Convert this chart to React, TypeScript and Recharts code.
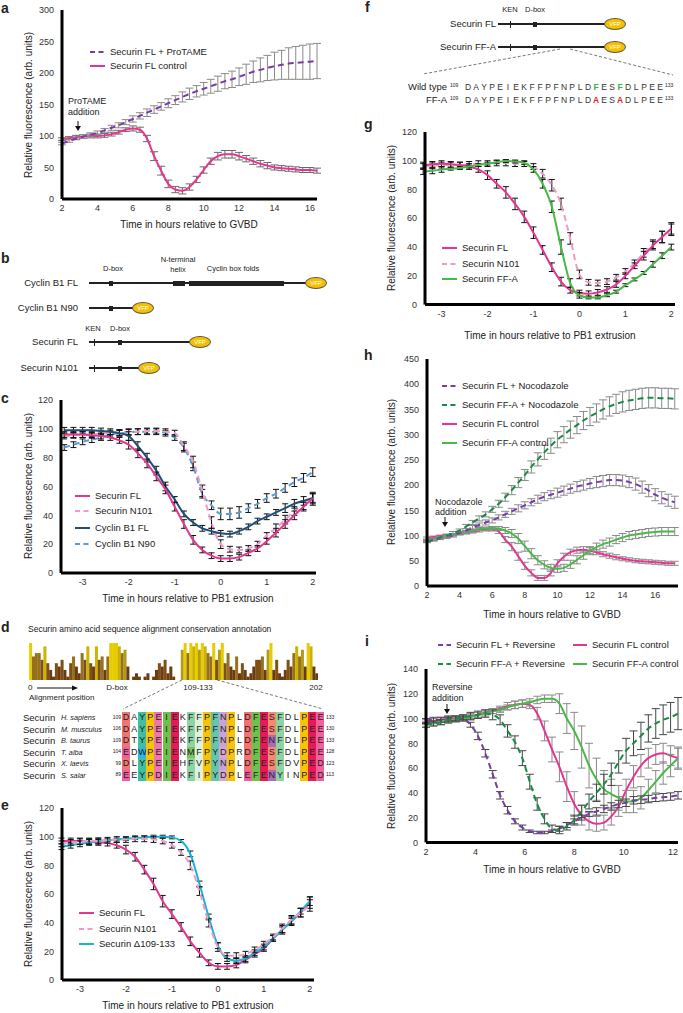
import React from "react";
import { LineChart, Line, XAxis, YAxis, ErrorBar, BarChart, Bar, Cell } from "recharts";

// ---- panel a (hours after GVBD) ----
const aTime = [2, 2.4, 2.8, 3.2, 3.6, 4, 4.4, 4.8, 5.2, 5.6, 6, 6.4, 6.8, 7.2, 7.6, 8, 8.4, 8.8, 9.2, 9.6, 10, 10.4, 10.8, 11.2, 11.6, 12, 12.4, 12.8, 13.2, 13.6, 14, 14.4, 14.8, 15.2, 15.6, 16, 16.4];
const aProtame = [88, 92, 96, 99, 102, 105, 109, 113, 117, 122, 127, 132, 137, 142, 147, 152, 157, 162, 167, 171, 175, 179, 183, 187, 190, 194, 198, 202, 205, 208, 211, 213, 215, 216, 217, 218, 219];
const aProtameErr = [2, 2, 2, 3, 3, 3, 3, 4, 4, 4, 5, 5, 6, 6, 6, 7, 7, 8, 9, 9, 10, 11, 12, 12, 13, 14, 16, 17, 19, 20, 22, 23, 25, 26, 27, 28, 28];
const aControl = [95, 97, 98, 99, 100, 100, 101, 103, 106, 110, 112, 110, 96, 68, 45, 24, 15, 13, 19, 31, 46, 60, 68, 71, 71, 68, 64, 60, 56, 53, 50, 49, 48, 47, 46, 46, 45];
const aControlErr = [2, 2, 3, 3, 3, 3, 3, 3, 3, 3, 4, 4, 5, 7, 7, 6, 5, 5, 5, 5, 5, 5, 6, 6, 6, 6, 5, 5, 5, 5, 4, 4, 4, 4, 4, 4, 4];

// ---- panels c, e, g (hours relative to PB1 extrusion) ----
const pbTime = [-3.4, -3.2, -3, -2.8, -2.6, -2.4, -2.2, -2, -1.8, -1.6, -1.4, -1.2, -1, -0.8, -0.6, -0.4, -0.2, 0, 0.2, 0.4, 0.6, 0.8, 1, 1.2, 1.4, 1.6, 1.8, 2];

const cFL = [96, 96, 96, 95.5, 95, 94, 92, 89, 83, 76, 67, 58, 46, 34, 23, 16, 12, 10, 10, 11, 14, 17, 22, 28, 34, 40, 46, 52];
const cFLErr = [2, 2, 2, 2, 2, 2, 2, 3, 3, 3, 3, 3, 3, 3, 3, 2, 2, 2, 2, 2, 2, 2, 2, 3, 3, 3, 3, 4];
const cN101 = [95, 95.5, 96, 96, 97, 97, 97.5, 98, 98, 98.5, 98.5, 98, 97, 88, 77, 57, 35, 20, 16.5, 16, 17, 20, 26, 31, 37, 43, 47, 51];
const cN101Err = [2, 2, 2, 2, 2, 2, 2, 2, 2, 2, 2, 2, 2, 3, 4, 4, 4, 3, 2, 2, 2, 2, 2, 3, 3, 3, 3, 4];
const cB1FL = [99, 99, 99, 99, 98.5, 98, 97, 95, 88, 80, 71, 60, 51, 41, 35, 31, 29, 27.5, 27, 29, 32, 36, 39, 42, 45, 48, 50, 52];
const cB1FLErr = [2, 2, 2, 2, 2, 2, 2, 3, 3, 3, 3, 3, 2, 2, 2, 2, 2, 2, 2, 2, 2, 2, 2, 2, 3, 3, 3, 3];
const cB1N90 = [87, 89, 91, 92.5, 94, 96, 97, 97.5, 98, 98, 98, 97, 94, 87, 74, 55, 47, 41, 41, 42, 45, 48, 52, 55, 59, 63, 66, 70];
const cB1N90Err = [2, 2, 2, 2, 2, 2, 2, 2, 2, 2, 2, 2, 2, 3, 3, 3, 3, 4, 4, 4, 3, 3, 3, 3, 3, 3, 3, 3];

const eFL = [97, 97, 97, 96.5, 96, 95.5, 94, 91, 86, 77, 67, 55, 46, 37, 27, 19, 12, 9.5, 9.5, 10.5, 14, 18, 22, 29, 35, 41, 47, 54];
const eFLErr = [2, 2, 2, 2, 2, 2, 2, 3, 3, 3, 4, 4, 3, 3, 3, 3, 2, 2, 2, 2, 2, 2, 2, 2, 3, 3, 3, 4];
const eN101 = [95, 96, 96.5, 97, 97, 97.5, 98, 98, 98.5, 98.5, 98, 97, 94, 89, 80, 62, 40, 23, 17, 17, 18, 21, 25, 30, 36, 42, 47, 52];
const eN101Err = [2, 2, 2, 2, 2, 2, 2, 2, 2, 2, 2, 2, 2, 2, 3, 3, 3, 3, 2, 2, 2, 2, 2, 2, 3, 3, 3, 4];
const eDelta = [93, 94, 95, 96, 97, 97.5, 98, 98.5, 99, 99.5, 100, 100, 99.5, 97, 88, 67, 44, 24, 15, 13.5, 15, 19, 23, 29, 35, 41, 48, 55];
const eDeltaErr = [2, 2, 2, 2, 2, 1, 1, 1, 1, 1, 1, 1, 1, 1, 2, 2, 2, 2, 2, 2, 2, 2, 2, 2, 2, 2, 2, 3];

const gFL = [97, 97.5, 98, 97.5, 97, 96, 94, 90, 84, 78, 70, 61, 50, 38, 26, 16, 10, 8, 7.5, 8.5, 10.5, 14, 20, 27, 34, 41, 47, 53];
const gFLErr = [2, 2, 2, 2, 2, 2, 2, 3, 3, 4, 4, 4, 4, 3, 3, 3, 2, 2, 2, 2, 2, 2, 2, 2, 3, 3, 4, 4];
const gN101 = [96, 96.5, 97, 97, 97, 97.5, 98, 98, 98.5, 98.5, 98, 98, 96, 91, 83, 70, 46, 21, 15.5, 15, 16, 19, 23, 29, 36, 42, 47, 52];
const gN101Err = [2, 2, 2, 2, 2, 2, 2, 2, 2, 2, 2, 2, 2, 3, 4, 4, 4, 3, 2, 2, 2, 2, 2, 2, 3, 3, 4, 4];
const gFFA = [92.5, 93, 94, 94.5, 95, 96, 97, 98, 99, 99.8, 99.5, 98.5, 94, 84, 68, 40, 15, 6.5, 5, 5, 6.5, 9, 13.5, 17.5, 22, 28, 34, 40];
const gFFAErr = [2, 2, 2, 1, 1, 1, 1, 1, 1, 1, 1, 1, 2, 3, 4, 5, 3, 2, 1, 1, 1, 1, 1, 1, 1, 2, 2, 2];

// ---- panel h (nocodazole, hours after GVBD) ----
const hTime = [2, 2.4, 2.8, 3.2, 3.6, 4, 4.4, 4.8, 5.2, 5.6, 6, 6.4, 6.8, 7.2, 7.6, 8, 8.4, 8.8, 9.2, 9.6, 10, 10.4, 10.8, 11.2, 11.6, 12, 12.4, 12.8, 13.2, 13.6, 14, 14.4, 14.8, 15.2, 15.6, 16, 16.4, 16.8, 17.2];
const hFLNoco = [88, 91, 94, 97, 100, 105, 110, 116, 121, 126, 130, 136, 142, 148, 154, 160, 166, 172, 177, 181, 185, 189, 193, 197, 200, 203, 206, 208, 210, 210, 209, 206, 202, 196, 189, 181, 175, 170, 166];
const hFLNocoErr = [2, 2, 2, 3, 3, 3, 4, 4, 4, 5, 5, 5, 6, 6, 7, 7, 7, 8, 8, 8, 9, 9, 9, 10, 10, 10, 11, 11, 11, 11, 11, 11, 12, 12, 12, 12, 12, 12, 12];
const hFFANoco = [88, 92, 96, 100, 105, 110, 118, 126, 134, 142, 152, 163, 176, 190, 205, 220, 236, 251, 265, 278, 290, 300, 310, 319, 328, 336, 343, 350, 356, 361, 365, 368, 370, 372, 373, 373, 372, 372, 371];
const hFFANocoErr = [2, 2, 2, 3, 3, 3, 4, 4, 5, 5, 6, 7, 8, 9, 10, 11, 12, 13, 14, 15, 16, 16, 17, 17, 18, 18, 18, 19, 19, 19, 20, 20, 20, 20, 20, 20, 20, 20, 20];
const hFLCtrl = [95, 97, 99, 100, 102, 104, 106, 108, 110, 112, 112, 108, 92, 78, 59, 40, 26, 16, 16, 26, 45, 58, 67, 71, 72, 70, 67, 63, 60, 57, 54, 52, 50, 49, 48, 47, 46, 45, 45];
const hFLCtrlErr = [2, 2, 2, 2, 2, 2, 3, 3, 3, 3, 3, 4, 6, 8, 8, 7, 6, 5, 5, 6, 7, 7, 6, 6, 6, 6, 5, 5, 5, 5, 4, 4, 4, 4, 4, 4, 4, 4, 4];
const hFFACtrl = [90, 93, 96, 99, 101, 104, 107, 110, 113, 114, 115, 114, 110, 104, 94, 79, 64, 51, 42, 36, 34, 36, 43, 52, 61, 70, 77, 83, 87, 92, 96, 100, 102, 104, 106, 107, 108, 108, 108];
const hFFACtrlErr = [2, 2, 2, 2, 2, 3, 3, 3, 3, 3, 3, 4, 6, 8, 10, 10, 10, 9, 8, 7, 7, 7, 8, 8, 8, 8, 8, 8, 8, 8, 8, 8, 8, 8, 8, 8, 8, 8, 8];

// ---- panel i (reversine, hours after GVBD) ----
const iTime = [2, 2.3, 2.6, 2.9, 3.2, 3.5, 3.8, 4.1, 4.4, 4.7, 5, 5.3, 5.6, 5.9, 6.2, 6.5, 6.8, 7.1, 7.4, 7.7, 8, 8.3, 8.6, 8.9, 9.2, 9.5, 9.8, 10.1, 10.4, 10.7, 11, 11.3, 11.6, 11.9, 12.2];
const iFLRev = [98, 99, 99, 100, 100, 100, 95, 86, 72, 55, 38, 26, 17, 12, 9, 8, 8, 9, 11, 14, 17, 20, 23, 25, 27, 29, 31, 32, 34, 34.5, 35, 36, 36.5, 37, 38];
const iFLRevErr = [2, 2, 2, 2, 2, 2, 2, 3, 3, 3, 3, 3, 2, 2, 1, 1, 1, 1, 2, 2, 2, 2, 2, 3, 3, 3, 3, 3, 3, 3, 3, 3, 3, 3, 3];
const iFFARev = [95, 96, 97, 99, 100, 101, 102, 103, 104, 103, 99, 90, 81, 68, 49, 31, 19, 11, 10, 13, 18, 25, 33, 40, 47, 55, 65, 74, 80, 86, 92, 96, 99, 101, 104];
const iFFARevErr = [2, 2, 2, 2, 2, 2, 3, 3, 3, 4, 4, 5, 5, 6, 6, 5, 4, 3, 3, 3, 4, 5, 6, 7, 8, 9, 9, 10, 10, 11, 11, 12, 12, 12, 13];
const iFLCtrl = [97, 98, 99, 100, 100, 101, 102, 103, 105, 106, 108, 110, 111, 112, 111, 104, 90, 75, 61, 45, 31, 22, 17, 15, 16, 21, 29, 42, 53, 62, 68, 71, 72, 70, 68];
const iFLCtrlErr = [2, 2, 2, 2, 2, 2, 2, 2, 2, 2, 2, 3, 3, 3, 3, 5, 8, 10, 12, 12, 10, 8, 7, 6, 6, 7, 8, 9, 9, 9, 8, 8, 8, 8, 8];
const iFFACtrl = [95, 96, 97, 98, 99, 100, 101, 103, 104, 106, 107, 109, 111, 112, 113, 115, 116, 116, 112, 100, 90, 77, 62, 51, 43, 39, 36, 33, 33, 36, 42, 49, 56, 62, 68];
const iFFACtrlErr = [2, 2, 2, 2, 2, 2, 2, 2, 2, 2, 2, 2, 3, 3, 3, 3, 3, 3, 8, 12, 15, 17, 18, 17, 15, 12, 10, 9, 9, 9, 9, 9, 9, 9, 9];

// ---- panel d ----
const conservation = [
  11, 7, 8, 8, 6, 10, 5, 3,
  1, 5, 4, 6, 3, 1, 5, 7, 4,
  2, 8, 6, 10, 5, 4, 10, 6, 7, 3,
  7, 11, 11, 11, 10, 8, 9, 4,
  0, 1, 2, 1, 0, 1, 2, 0, 1, 3, 5, 4, 6, 2, 4, 1, 0, 0,
  9, 11, 8, 11, 10, 11, 9, 11, 10, 8, 7, 11, 6, 9, 11, 5, 8, 4, 3, 7, 2, 5, 3, 1,
  2, 4, 6, 6, 7, 3, 9, 11, 3, 6, 2, 1,
  3, 6, 4, 8, 10, 7, 9, 4, 11, 10, 4, 2,
];
const alignSpecies = ["H. sapiens", "M. musculus", "B. taurus", "T. alba", "X. laevis", "S. salar"];
const alignStart = [109, 106, 109, 104, 99, 89];
const alignEnd = [133, 130, 133, 128, 123, 113];
const alignSeqs = [
  "DAYPEIEKFFPFNPLDFESFDLPEE",
  "DAYPEIEKFFPFNPLDFESFDLPEE",
  "DTYPEIEKFFPFNPLDFENFDLPEE",
  "EDWPEIENMFPYDPRDFESFDLPEE",
  "DLYPEIEHFVPYNPLDFESFDVPED",
  "EEYPDIEKFIPYDPLEFENYINPED",
];
const columnColors = [
  "#f07470", "", "#3fbf9f", "#f8c400", "#f077ac", "#6cc24a", "#e8195a", "", "#8fd3a5", "#dff0df",
  "#f8c400", "#63c6ad", "#c8a2d8", "#f8c400", "", "#f07470", "#6cc24a", "#e8195a", "#f48a6e", "#8fd3a5",
  "", "", "#f8c400", "#e8195a", "#f0609c",
];
const cellOverrides: Record<string, string> = {
  "0E": "#f0609c", "2W": "#29b6e8", "8M": "#7dc35a", "12D": "#d9a6cf", "15E": "#f0609c", "18N": "#a56fb8",
};
const wtSeq = "DAYPEIEKFFPFNPLDFESFDLPEE";
const ffaSeq = "DAYPEIEKFFPFNPLDAESADLPEE";
const ffaSites = [16, 19];

const FONT = '"Liberation Sans", Arial, Helvetica, sans-serif';
const PINK = "#e2368f";
const LPINK = "#f29ac6";
const NAVY = "#1d4f7a";
const LBLUE = "#5b9bd5";
const CYAN = "#18b4d8";
const GREEN = "#49b848";
const DGREEN = "#178a44";
const PURPLE = "#7a3aa8";

type Series = { key: string; values: number[]; errors: number[]; color: string; dashed?: boolean; errColor?: string };

function TimeChart(props: {
  x0: number; x1: number; yTop: number; yBottom: number; times: number[]; series: Series[];
  xDomain: [number, number]; xTicks: number[]; yDomain: [number, number]; yTicks: number[]; cap?: number;
}) {
  const { x0, x1, yTop, yBottom, times, series } = props;
  const YW = 40, MT = 6, MR = 6, XH = 22;
  const data = times.map((t, i) => {
    const row: Record<string, number> = { t };
    series.forEach((s) => {
      row[s.key] = s.values[i];
      row[s.key + "Err"] = s.errors[i];
    });
    return row;
  });
  return (
    <div style={{ position: "absolute", left: x0 - YW, top: yTop - MT }}>
      <LineChart width={YW + x1 - x0 + MR} height={MT + yBottom - yTop + XH} data={data} margin={{ top: MT, right: MR, bottom: 0, left: 0 }}>
        <XAxis type="number" dataKey="t" domain={props.xDomain} ticks={props.xTicks} allowDataOverflow height={XH}
          tickLine={false} tickSize={4} axisLine={{ stroke: "#000", strokeWidth: 3 }} tick={{ fontSize: 9, fill: "#333" }} interval={0} />
        <YAxis type="number" domain={props.yDomain} ticks={props.yTicks} allowDataOverflow width={YW}
          tickLine={false} axisLine={{ stroke: "#000", strokeWidth: 3 }} tick={{ fontSize: 9, fill: "#333" }} interval={0} />
        {series.map((s) => (
          <Line key={s.key} type="monotone" dataKey={s.key} stroke={s.color} strokeWidth={2}
            strokeDasharray={s.dashed ? "6 4" : undefined} dot={false} activeDot={false} isAnimationActive={false}>
            <ErrorBar dataKey={s.key + "Err"} width={props.cap ?? 4} stroke={s.errColor ?? "#111"} strokeWidth={1} direction="y" isAnimationActive={false} />
          </Line>
        ))}
      </LineChart>
    </div>
  );
}

function T(props: { x: number; y: number; children: React.ReactNode; size?: number; anchor?: "start" | "middle" | "end"; bold?: boolean; italic?: boolean; color?: string; rotate?: boolean }) {
  const { x, y, size = 9.5, anchor = "start", bold, italic, color = "#222", rotate } = props;
  const tx = rotate || anchor === "middle" ? "-50%" : anchor === "end" ? "-100%" : "0";
  return (
    <div style={{
      position: "absolute", left: x, top: y, fontSize: size, lineHeight: 1, whiteSpace: "nowrap",
      fontWeight: bold ? 700 : 400, fontStyle: italic ? "italic" : "normal", color,
      transform: `translate(${tx}, -50%)${rotate ? " rotate(-90deg)" : ""}`,
    }}>{props.children}</div>
  );
}

function Key(props: { x: number; y: number; color: string; dashed?: boolean; label: string; len?: number }) {
  const len = props.len ?? 15;
  return (
    <>
      <svg style={{ position: "absolute", left: props.x, top: props.y - 3, overflow: "visible" }} width={len} height={6}>
        <line x1={0} y1={3} x2={len} y2={3} stroke={props.color} strokeWidth={2} strokeDasharray={props.dashed ? "5 3.5" : undefined} />
      </svg>
      <T x={props.x + len + 5} y={props.y}>{props.label}</T>
    </>
  );
}

function Vfp({ x, y }: { x: number; y: number }) {
  return (
    <div style={{
      position: "absolute", left: x - 11, top: y - 6, width: 20, height: 10, borderRadius: "50%", background: "#f5c000",
      border: "1px solid #555", fontSize: 6, lineHeight: "10px", textAlign: "center", color: "#fff",
    }}>VFP</div>
  );
}

function Construct({ y, x0, x1, vfp, boxes, ken }: { y: number; x0: number; x1: number; vfp: number; boxes: [number, number][]; ken?: number }) {
  return (
    <>
      <div style={{ position: "absolute", left: x0, top: y - 1, width: x1 - x0, height: 2, background: "#222" }} />
      {ken !== undefined && <div style={{ position: "absolute", left: ken - 0.5, top: y - 3.5, width: 1.2, height: 7, background: "#222" }} />}
      {boxes.map(([bx, bw], k) => (
        <div key={k} style={{ position: "absolute", left: bx, top: y - 2.5, width: bw, height: 5, background: "#222" }} />
      ))}
      <Vfp x={vfp} y={y} />
    </>
  );
}

function Arrow({ x, y1, y2 }: { x: number; y1: number; y2: number }) {
  return (
    <svg style={{ position: "absolute", left: x - 4, top: y1, overflow: "visible" }} width={8} height={y2 - y1}>
      <line x1={4} y1={0} x2={4} y2={y2 - y1 - 4} stroke="#111" strokeWidth={1} />
      <polygon points={`1,${y2 - y1 - 5} 7,${y2 - y1 - 5} 4,${y2 - y1}`} fill="#111" />
    </svg>
  );
}

function consColor(v: number) {
  if (v >= 11) return "#e6cc00";
  if (v >= 10) return "#cdb200";
  if (v >= 9) return "#b39a1c";
  if (v >= 7) return "#96701c";
  if (v >= 5) return "#7e5018";
  return "#6b3c12";
}

const YLABEL = "Relative fluorescence (arb. units)";
const pbTicks = [-3, -2, -1, 0, 1, 2];
const pctTicks = [0, 20, 40, 60, 80, 100, 120];

export default function App() {
  const consData = conservation.map((v, i) => ({ i, v }));
  return (
    <div style={{ position: "absolute", left: 0, top: 0, width: 683, height: 1013, background: "#fff", fontFamily: FONT, color: "#222", overflow: "hidden" }}>
      {/* panel a */}
      <T x={1} y={8} size={14} bold>a</T>
      <TimeChart x0={62} x1={317} yTop={10} yBottom={199} times={aTime} xDomain={[2, 16.4]} xTicks={[2, 4, 6, 8, 10, 12, 14, 16]}
        yDomain={[0, 300]} yTicks={[0, 50, 100, 150, 200, 250, 300]}
        series={[
          { key: "ctrl", values: aControl, errors: aControlErr, color: PINK, errColor: "#6a6a6a" },
          { key: "pro", values: aProtame, errors: aProtameErr, color: PURPLE, dashed: true, errColor: "#8a8a8a" },
        ]} />
      <T x={29} y={105} size={10} rotate>{YLABEL}</T>
      <T x={189} y={225} size={10} anchor="middle">Time in hours relative to GVBD</T>
      <Key x={90} y={52} color={PURPLE} dashed label="Securin FL + ProTAME" />
      <Key x={90} y={66} color={PINK} label="Securin FL control" />
      <T x={68} y={101} size={9}>ProTAME</T>
      <T x={68} y={112} size={9}>addition</T>
      <Arrow x={78} y1={121} y2={131} />

      {/* panel b */}
      <T x={1} y={258} size={14} bold>b</T>
      <T x={113} y={269} size={7.5} anchor="middle">D-box</T>
      <T x={178} y={260} size={7.5} anchor="middle">N-terminal</T>
      <T x={178} y={270} size={7.5} anchor="middle">helix</T>
      <T x={233} y={269} size={7.5} anchor="middle">Cyclin box folds</T>
      <T x={78} y={283} anchor="end">Cyclin B1 FL</T>
      <Construct y={283} x0={89} x1={306} vfp={316} boxes={[[109, 4], [173, 12], [189, 95]]} />
      <T x={78} y={308} anchor="end">Cyclin B1 N90</T>
      <Construct y={308} x0={89} x1={134} vfp={143} boxes={[[109, 4]]} />
      <T x={93} y={329} size={7.5} anchor="middle">KEN</T>
      <T x={120} y={329} size={7.5} anchor="middle">D-box</T>
      <T x={78} y={342} anchor="end">Securin FL</T>
      <Construct y={342} x0={89} x1={191} vfp={200} boxes={[[118, 4]]} ken={94} />
      <T x={78} y={368} anchor="end">Securin N101</T>
      <Construct y={368} x0={89} x1={140} vfp={149} boxes={[[118, 4]]} ken={94} />

      {/* panel c */}
      <T x={1} y={398} size={14} bold>c</T>
      <TimeChart x0={61} x1={316} yTop={400} yBottom={573} times={pbTime} xDomain={[-3.47, 2.07]} xTicks={pbTicks}
        yDomain={[0, 120]} yTicks={pctTicks} cap={3}
        series={[
          { key: "n90", values: cB1N90, errors: cB1N90Err, color: LBLUE, dashed: true },
          { key: "n101", values: cN101, errors: cN101Err, color: LPINK, dashed: true },
          { key: "b1", values: cB1FL, errors: cB1FLErr, color: NAVY },
          { key: "fl", values: cFL, errors: cFLErr, color: PINK },
        ]} />
      <T x={29} y={486} size={10} rotate>{YLABEL}</T>
      <T x={188} y={599} size={10} anchor="middle">Time in hours relative to PB1 extrusion</T>
      <Key x={75} y={496} color={PINK} label="Securin FL" />
      <Key x={75} y={511} color={LPINK} dashed label="Securin N101" />
      <Key x={75} y={528} color={NAVY} label="Cyclin B1 FL" />
      <Key x={75} y={544} color={LBLUE} dashed label="Cyclin B1 N90" />

      {/* panel d */}
      <T x={1} y={627} size={14} bold>d</T>
      <T x={28} y={629} size={8.5}>Securin amino acid sequence alignment conservation annotation</T>
      <div style={{ position: "absolute", left: 29, top: 643 }}>
        <BarChart width={289} height={37} data={consData} margin={{ top: 0, right: 0, bottom: 0, left: 0 }} barCategoryGap="4%">
          <XAxis dataKey="i" hide />
          <YAxis domain={[0, 11]} hide />
          <Bar dataKey="v" isAnimationActive={false}>
            {consData.map((d) => <Cell key={d.i} fill={consColor(d.v)} />)}
          </Bar>
        </BarChart>
      </div>
      <T x={28} y={688} size={8}>0</T>
      <T x={117} y={688} size={8} anchor="middle">D-box</T>
      <T x={198} y={688} size={8} anchor="middle">109-133</T>
      <T x={316} y={688} size={8} anchor="middle">202</T>
      <T x={29} y={698} size={8}>Alignment position</T>
      {alignSeqs.map((seq, r) => {
        const y = 718 + r * 11.5;
        return (
          <React.Fragment key={r}>
            <T x={23} y={y}>Securin</T>
            <T x={61} y={y} size={7.3} italic>{alignSpecies[r]}</T>
            <T x={121} y={y - 1.5} size={5} anchor="end">{alignStart[r]}</T>
            {seq.split("").map((ch, c) => {
              const bg = cellOverrides[c + ch] ?? columnColors[c];
              return (
                <div key={c} style={{
                  position: "absolute", left: 122 + c * 8.1, top: y - 5.75, width: 8.1, height: 11.5, background: bg || "transparent",
                  fontSize: 9, lineHeight: "11.5px", textAlign: "center", color: "#222",
                }}>{ch}</div>
              );
            })}
            <T x={326} y={y - 1.5} size={5}>{alignEnd[r]}</T>
          </React.Fragment>
        );
      })}

      {/* panel e */}
      <T x={1} y={805} size={14} bold>e</T>
      <TimeChart x0={62} x1={314} yTop={808} yBottom={980} times={pbTime} xDomain={[-3.39, 2.09]} xTicks={pbTicks}
        yDomain={[0, 120]} yTicks={pctTicks} cap={3}
        series={[
          { key: "fl", values: eFL, errors: eFLErr, color: PINK },
          { key: "del", values: eDelta, errors: eDeltaErr, color: CYAN },
          { key: "n101", values: eN101, errors: eN101Err, color: LPINK, dashed: true },
        ]} />
      <T x={29} y={894} size={10} rotate>{YLABEL}</T>
      <T x={188} y={1006} size={10} anchor="middle">Time in hours relative to PB1 extrusion</T>
      <Key x={79} y={913} color={PINK} label="Securin FL" />
      <Key x={79} y={929} color={LPINK} dashed label="Securin N101" />
      <Key x={79} y={944} color={CYAN} label="Securin Δ109-133" />

      {/* panel f */}
      <T x={365} y={7} size={14} bold>f</T>
      <T x={510} y={10} size={7.5} anchor="middle">KEN</T>
      <T x={535} y={10} size={7.5} anchor="middle">D-box</T>
      <T x={496} y={24} anchor="end">Securin FL</T>
      <Construct y={24} x0={498} x1={606} vfp={615} boxes={[[533, 4]]} ken={510} />
      <T x={496} y={47} anchor="end">Securin FF-A</T>
      <Construct y={47} x0={498} x1={606} vfp={615} boxes={[[533, 4]]} ken={510} />
      <T x={447} y={87} anchor="end">Wild type</T>
      <T x={447} y={100} anchor="end">FF-A</T>
      {[wtSeq, ffaSeq].map((seq, r) => {
        const y = r === 0 ? 87 : 100;
        return (
          <React.Fragment key={r}>
            <T x={450} y={y - 2} size={5}>109</T>
            {seq.split("").map((ch, c) => {
              const hit = ffaSites.includes(c);
              return (
                <T key={c} x={468 + c * 8} y={y} size={8.5} anchor="middle" bold={hit}
                  color={hit ? (r === 0 ? "#2db34a" : "#e8231e") : "#333"}>{ch}</T>
              );
            })}
            <T x={665} y={y - 2} size={5}>133</T>
          </React.Fragment>
        );
      })}

      {/* panel g */}
      <T x={364} y={124} size={14} bold>g</T>
      <TimeChart x0={425} x1={675} yTop={131.7} yBottom={304.3} times={pbTime} xDomain={[-3.36, 2.08]} xTicks={pbTicks}
        yDomain={[0, 120]} yTicks={pctTicks} cap={3}
        series={[
          { key: "n101", values: gN101, errors: gN101Err, color: LPINK, dashed: true },
          { key: "fl", values: gFL, errors: gFLErr, color: PINK },
          { key: "ffa", values: gFFA, errors: gFFAErr, color: GREEN },
        ]} />
      <T x={392} y={218} size={10} rotate>{YLABEL}</T>
      <T x={550} y={336} size={10} anchor="middle">Time in hours relative to PB1 extrusion</T>
      <Key x={442} y={248} color={PINK} label="Securin FL" />
      <Key x={442} y={264} color={LPINK} dashed label="Securin N101" />
      <Key x={442} y={279} color={GREEN} label="Securin FF-A" />

      {/* panel h */}
      <T x={364} y={355} size={14} bold>h</T>
      <TimeChart x0={427} x1={678} yTop={359} yBottom={586} times={hTime} xDomain={[2, 17.4]} xTicks={[2, 4, 6, 8, 10, 12, 14, 16]}
        yDomain={[0, 450]} yTicks={[0, 50, 100, 150, 200, 250, 300, 350, 400, 450]}
        series={[
          { key: "flc", values: hFLCtrl, errors: hFLCtrlErr, color: PINK, errColor: "#8a8a8a" },
          { key: "ffac", values: hFFACtrl, errors: hFFACtrlErr, color: GREEN, errColor: "#8a8a8a" },
          { key: "fln", values: hFLNoco, errors: hFLNocoErr, color: PURPLE, dashed: true, errColor: "#8a8a8a" },
          { key: "ffan", values: hFFANoco, errors: hFFANocoErr, color: DGREEN, dashed: true, errColor: "#8a8a8a" },
        ]} />
      <T x={392} y={472} size={10} rotate>{YLABEL}</T>
      <T x={552} y={615} size={10} anchor="middle">Time in hours relative to GVBD</T>
      <Key x={442} y={386} color={PURPLE} dashed label="Securin FL + Nocodazole" />
      <Key x={442} y={405} color={DGREEN} dashed label="Securin FF-A + Nocodazole" />
      <Key x={442} y={424} color={PINK} label="Securin FL control" />
      <Key x={442} y={443} color={GREEN} label="Securin FF-A control" />
      <T x={435} y={502} size={9}>Nocodazole</T>
      <T x={435} y={512} size={9}>addition</T>
      <Arrow x={445} y1={517} y2={527} />

      {/* panel i */}
      <T x={365} y={641} size={14} bold>i</T>
      <TimeChart x0={426} x1={678} yTop={669.3} yBottom={842.7} times={iTime} xDomain={[2, 12.2]} xTicks={[2, 4, 6, 8, 10, 12]}
        yDomain={[0, 140]} yTicks={[0, 20, 40, 60, 80, 100, 120, 140]}
        series={[
          { key: "flc", values: iFLCtrl, errors: iFLCtrlErr, color: PINK, errColor: "#8a8a8a" },
          { key: "ffac", values: iFFACtrl, errors: iFFACtrlErr, color: GREEN, errColor: "#8a8a8a" },
          { key: "flr", values: iFLRev, errors: iFLRevErr, color: PURPLE, dashed: true, errColor: "#444" },
          { key: "ffar", values: iFFARev, errors: iFFARevErr, color: DGREEN, dashed: true, errColor: "#444" },
        ]} />
      <T x={392} y={756} size={10} rotate>{YLABEL}</T>
      <T x={552} y={870} size={10} anchor="middle">Time in hours relative to GVBD</T>
      <Key x={438} y={645} color={PURPLE} dashed label="Securin FL + Reversine" len={13} />
      <Key x={438} y={664} color={DGREEN} dashed label="Securin FF-A + Reversine" len={13} />
      <Key x={573} y={645} color={PINK} label="Securin FL control" len={14} />
      <Key x={573} y={664} color={GREEN} label="Securin FF-A control" len={14} />
      <T x={432} y={687} size={9}>Reversine</T>
      <T x={432} y={698} size={9}>addition</T>
      <Arrow x={447} y1={704} y2={714} />

      {/* guide lines */}
      <svg style={{ position: "absolute", left: 0, top: 0, pointerEvents: "none" }} width={683} height={1013}>
        <line x1={182} y1={680} x2={123} y2={709} stroke="#555" strokeWidth={0.8} strokeDasharray="3 2" />
        <line x1={217} y1={680} x2={323} y2={709} stroke="#555" strokeWidth={0.8} strokeDasharray="3 2" />
        <line x1={37} y1={688} x2={73} y2={688} stroke="#111" strokeWidth={1} />
        <polygon points="72,685.5 78,688 72,690.5" fill="#111" />
        <line x1={560} y1={49} x2={423} y2={74} stroke="#555" strokeWidth={0.8} strokeDasharray="3 2" />
        <line x1={570} y1={49} x2={673} y2={75} stroke="#555" strokeWidth={0.8} strokeDasharray="3 2" />
      </svg>
    </div>
  );
}
